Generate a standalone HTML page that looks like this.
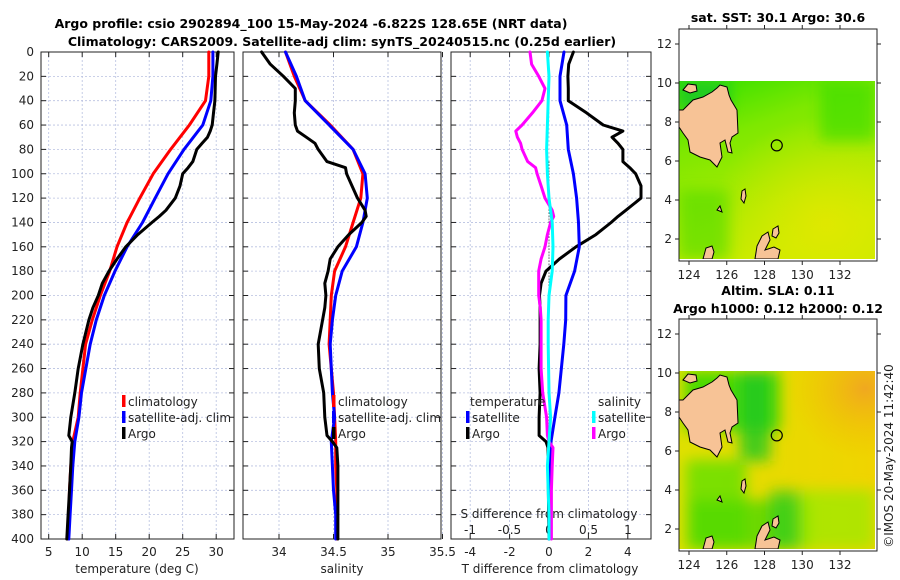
<!DOCTYPE html>
<html><head><meta charset="utf-8"><style>
body{margin:0;background:#fff;width:900px;height:580px;overflow:hidden}
svg{display:block}
text{font-family:"DejaVu Sans","Liberation Sans",sans-serif;fill:#222}
.t{font-weight:bold;font-size:12.5px;fill:#000}
.tk{font-size:12px}
</style></head><body>
<svg id="c" width="900" height="580" xmlns="http://www.w3.org/2000/svg">
<defs>
<linearGradient id="g1" x1="0" y1="0" x2="0.4" y2="1"><stop offset="0" stop-color="#2ee000"/><stop offset="0.35" stop-color="#7ee800"/><stop offset="1" stop-color="#c8ec00"/></linearGradient>
<radialGradient id="g1b" cx="0.75" cy="0.8" r="0.6"><stop offset="0" stop-color="#e2e800" stop-opacity="0.9"/><stop offset="1" stop-color="#e2e800" stop-opacity="0"/></radialGradient>
<linearGradient id="g2" x1="0" y1="0" x2="1" y2="0"><stop offset="0" stop-color="#e0e000"/><stop offset="1" stop-color="#f0d400"/></linearGradient>
<radialGradient id="g2b" cx="0.95" cy="0.1" r="0.4"><stop offset="0" stop-color="#f0a820"/><stop offset="1" stop-color="#f0c000" stop-opacity="0"/></radialGradient>
<filter id="bl" x="-10%" y="-10%" width="120%" height="120%"><feGaussianBlur stdDeviation="7"/></filter>
<clipPath id="cp1"><rect x="679" y="81" width="196" height="178"/></clipPath>
<clipPath id="cp2"><rect x="679" y="371" width="196" height="178"/></clipPath>
</defs>
</svg>
<script>
// ---------- data ----------
const depths = [0,20,40,60,80,100,120,140,160,180,200,220,240,280,300,320,340,360,380,400];
const tempClim = [28.9,28.9,28.4,26.0,23.2,20.6,18.6,16.7,15.2,14.1,12.7,11.5,10.5,9.7,9.4,8.6,8.3,8.1,8.0,7.9];
const tempSat  = [29.5,29.5,29.2,28.0,25.2,22.8,20.9,19.0,16.7,14.9,13.3,12.1,11.2,9.9,9.5,8.9,8.6,8.4,8.2,8.0];
const argoDepths = [0,10,20,30,40,50,60,65,70,75,80,90,95,100,110,120,130,135,140,150,160,170,180,190,200,210,220,240,260,280,300,315,320,325,340,360,380,400];
const tempArgo = [30.3,30.1,29.9,29.85,29.8,29.6,29.4,29.1,28.7,27.9,27.1,26.5,25.8,25.0,24.6,23.9,22.5,21.5,20.4,18.3,16.5,15.2,14.0,13.0,12.4,11.6,11.0,10.1,9.4,8.9,8.3,8.0,8.5,8.4,8.3,8.1,7.9,7.7];
const salClim = [34.06,34.14,34.24,34.47,34.68,34.77,34.75,34.68,34.61,34.51,34.48,34.47,34.46,34.50,34.51,34.52,34.52,34.53,34.53,34.53];
const salSat  = [34.06,34.16,34.24,34.46,34.68,34.79,34.81,34.77,34.71,34.58,34.52,34.49,34.47,34.49,34.51,34.48,34.49,34.50,34.52,34.52];
const salArgo = [33.84,33.92,34.04,34.15,34.15,34.14,34.15,34.17,34.25,34.33,34.36,34.44,34.61,34.62,34.67,34.72,34.79,34.80,34.76,34.64,34.54,34.47,34.45,34.42,34.43,34.42,34.40,34.36,34.37,34.41,34.42,34.44,34.49,34.53,34.54,34.54,34.54,34.54];
const dTsat = [0.76,0.56,0.56,0.9,0.98,1.24,1.4,1.5,1.54,1.3,0.86,0.85,0.75,0.5,0.3,0.1,0.05,0.03,0.01,0];
const dTargo = [1.24,1.0,0.96,0.98,0.98,1.91,2.75,3.75,3.2,3.5,3.75,3.75,4.1,4.4,4.67,4.67,3.9,3.5,3.15,2.38,1.37,0.53,-0.15,-0.4,-0.48,-0.45,-0.45,-0.45,-0.5,-0.45,-0.5,-0.5,-0.15,-0.05,-0.05,-0.03,-0.02,0];
const dSsat = [-0.02,0.0,-0.01,-0.02,-0.03,-0.02,0.0,0.04,0.05,0.04,0.0,-0.01,-0.01,0.0,0.02,0.0,-0.02,-0.01,0.0,0.0];
const dSargo = [-0.24,-0.22,-0.13,-0.05,-0.09,-0.21,-0.34,-0.42,-0.40,-0.36,-0.34,-0.27,-0.17,-0.15,-0.10,-0.05,0.04,0.06,0.02,-0.02,-0.05,-0.10,-0.13,-0.13,-0.13,-0.11,-0.10,-0.10,-0.10,-0.08,-0.03,-0.02,0.0,0.05,0.04,0.03,0.03,0.03];
const depthTicks = [0,20,40,60,80,100,120,140,160,180,200,220,240,260,280,300,320,340,360,380,400];
const tempTicks = [5,10,15,20,25,30];
const salTicks = [34,34.5,35,35.5];
const dTTicks = [-4,-2,0,2,4];
const dSTicks = [-1,-0.5,0,0.5,1];
const mapLatTicks = [2,4,6,8,10,12];
const mapLonTicks = [124,126,128,130,132];
const argoLon = 128.65, argoLat = 6.8;

// ---------- axes ----------
const NS='http://www.w3.org/2000/svg';
const svg=document.getElementById('c');
function el(tag,attrs,parent){const e=document.createElementNS(NS,tag);for(const k in attrs)e.setAttribute(k,attrs[k]);(parent||svg).appendChild(e);return e;}
const yD = d => 52 + d*(487/400);
const xT = t => 48.7 + (t-5)*6.7;
const xS = s => 279 + (s-34)*109;
const xdT = v => 549 + v*19.7;
const xdS = v => 549 + v*79;
const panels=[{x0:41,x1:234,name:'temperature-panel',ticks:tempTicks,fx:xT,lab:'temperature (deg C)',lx:137},
 {x0:243,x1:441,name:'salinity-panel',ticks:salTicks,fx:xS,lab:'salinity',lx:342},
 {x0:451,x1:651,name:'difference-panel',ticks:dTTicks,fx:xdT,lab:'T difference from climatology',lx:550}];
panels.forEach((p,i)=>{
  const g=el('g',{});
  
  
  depthTicks.forEach(d=>{
    el('line',{x1:p.x0,x2:p.x1,y1:yD(d),y2:yD(d),stroke:'#b8c0e0','stroke-width':0.8,'stroke-dasharray':'2,2'},g);
    el('line',{x1:p.x0,x2:p.x0+5,y1:yD(d),y2:yD(d),stroke:'#222'},g);
    el('line',{x1:p.x1-5,x2:p.x1,y1:yD(d),y2:yD(d),stroke:'#222'},g);
    if(i===0){const t=el('text',{x:34,y:yD(d)+4,'text-anchor':'end',class:'tk'},g);t.textContent=d;}
  });
  p.ticks.forEach(v=>{
    const x=p.fx(v);
    el('line',{x1:x,x2:x,y1:52,y2:539,stroke:'#b8c0e0','stroke-width':0.8,'stroke-dasharray':'2,2'},g);
    el('line',{x1:x,x2:x,y1:539,y2:534,stroke:'#222'},g);
    el('line',{x1:x,x2:x,y1:52,y2:57,stroke:'#222'},g);
    const t=el('text',{x:x,y:556,'text-anchor':'middle',class:'tk'},g);t.textContent=v;
  });
  el('rect',{x:p.x0,y:52,width:p.x1-p.x0,height:487,fill:'none',stroke:'#222','stroke-width':1},g);
  const lt=el('text',{x:p.lx,y:573,'text-anchor':'middle',class:'tk','font-size':'13'},g);lt.textContent=p.lab;
  
  
});
dSTicks.forEach(v=>{const t=el('text',{x:xdS(v),y:534,'text-anchor':'middle',class:'tk'});t.textContent=v;
 
 });
{const t=el('text',{x:549,y:518,'text-anchor':'middle',class:'tk','font-size':'13'});t.textContent='S difference from climatology';
 
 }
{const l=el('line',{x1:549,x2:549,y1:yD(90),y2:539,stroke:'#222','stroke-width':1,'stroke-dasharray':'1,2'});
 
 }

function line(vals,ds,fx,color,name){
  const pts=vals.map((v,i)=>fx(v).toFixed(1)+','+yD(ds[i]).toFixed(1)).join(' ');
  const p=el('polyline',{points:pts,fill:'none',stroke:color,'stroke-width':3,'stroke-linejoin':'round','stroke-linecap':'round'});
  
  
}
line(tempClim,depths,xT,'#ff0000','temp-climatology-line');
line(tempSat,depths,xT,'#0000ff','temp-satellite-line');
line(tempArgo,argoDepths,xT,'#000000','temp-argo-line');
line(salClim,depths,xS,'#ff0000','sal-climatology-line');
line(salSat,depths,xS,'#0000ff','sal-satellite-line');
line(salArgo,argoDepths,xS,'#000000','sal-argo-line');
line(dTargo,argoDepths,xdT,'#000000','dt-argo-line');
line(dTsat,depths,xdT,'#0000ff','dt-satellite-line');
line(dSargo,argoDepths,xdS,'#ff00ff','ds-argo-line');
line(dSsat,depths,xdS,'#00ffff','ds-satellite-line');

function leg(x,y,color,txt){
  const g=el('g',{});
  
  
  el('rect',{x:x,y:y-11,width:3.5,height:12,fill:color},g);
  const t=el('text',{x:x+6,y:y,class:'tk','font-size':'13'},g);t.textContent=txt;
}
leg(122,406,'#ff0000','climatology');leg(122,422,'#0000ff','satellite-adj. clim');leg(122,438,'#000000','Argo');
leg(332,406,'#ff0000','climatology');leg(332,422,'#0000ff','satellite-adj. clim');leg(332,438,'#000000','Argo');
{const t=el('text',{x:470,y:406,class:'tk','font-size':'13'});t.textContent='temperature';
 
 const s=el('text',{x:598,y:406,class:'tk','font-size':'13'});s.textContent='salinity';
 }
leg(466,422,'#0000ff','satellite');leg(466,438,'#000000','Argo');
leg(592,422,'#00ffff','satellite');leg(592,438,'#ff00ff','Argo');

[[311,28,'Argo profile: csio 2902894_100 15-May-2024 -6.822S 128.65E (NRT data)','main-title'],
 [342,46,'Climatology: CARS2009. Satellite-adj clim: synTS_20240515.nc (0.25d earlier)','subtitle'],
 [778,22,'sat. SST: 30.1 Argo: 30.6','sst-map-title'],
 [778,295,'Altim. SLA: 0.11','sla-map-title'],
 [778,313,'Argo h1000: 0.12 h2000: 0.12','argo-height-title']].forEach(a=>{
  const t=el('text',{x:a[0],y:a[1],'text-anchor':'middle',class:'t'});t.textContent=a[2];
  
  
});

const mlon = lon => 689 + (lon-124)*18.875;
const land1 = "679,110 683,110 693,100 703,97 712,92 717,88 720,85 727,87 729,95 731,100 737,110 738,133 732,137 730,143 732,153 728,152 725,140 720,143 722,157 717,167 713,163 710,160 700,157 690,152 688,140 683,133 679,127";
const isles = ["683,90 688,84 696,85 697,91 690,93","741,199 742,191 745,189 746,196 744,203","755,259 757,246 762,236 768,232 770,240 765,250 774,247 780,250 778,259","772,236 773,229 778,226 779,233 776,238","703,259 706,248 712,246 714,252 712,259","717,210 720,206 722,212"];
function map(off,clip,kind,name){
  const mlat = lat => 83 + off + (10-lat)*19.5;
  const g=el('g',{});
  
  
  const gc=el('g',{'clip-path':'url(#'+clip+')'},g);
  const bg=el('g',{},gc);
  if(kind===1){
    el('rect',{x:679,y:81+off,width:196,height:178,fill:'url(#g1)'},bg);
    el('rect',{x:679,y:81+off,width:196,height:178,fill:'url(#g1b)'},bg);
    const f=el('g',{filter:'url(#bl)'},bg);
    el('rect',{x:679,y:81+off,width:50,height:30,fill:'#10c030',opacity:0.7},f);
    el('rect',{x:820,y:81+off,width:55,height:60,fill:'#30dc00',opacity:0.6},f);
    el('rect',{x:679,y:190+off,width:50,height:69,fill:'#50dc00',opacity:0.6},f);
  } else {
    el('rect',{x:679,y:81+off,width:196,height:178,fill:'url(#g2)'},bg);
    el('rect',{x:679,y:81+off,width:196,height:178,fill:'url(#g2b)'},bg);
    const f=el('g',{filter:'url(#bl)'},bg);
    el('rect',{x:685,y:81+off,width:95,height:60,fill:'#30d800',opacity:0.85},f);
    el('rect',{x:740,y:81+off,width:30,height:90,fill:'#20c820',opacity:0.8},f);
    el('rect',{x:686,y:170+off,width:60,height:89,fill:'#70e000',opacity:0.9},f);
    el('rect',{x:690,y:210+off,width:120,height:49,fill:'#50d800',opacity:0.8},f);
    el('rect',{x:770,y:200+off,width:30,height:59,fill:'#30cc20',opacity:0.7},f);
    el('rect',{x:800,y:200+off,width:75,height:59,fill:'#a0e800',opacity:0.8},f);
  }
  const lg=el('g',{transform:'translate(0,'+off+')'},gc);
  el('polygon',{points:land1,fill:'#f7c396',stroke:'#000','stroke-width':1},lg);
  isles.forEach(p=>el('polygon',{points:p,fill:'#f7c396',stroke:'#000','stroke-width':1},lg));
  const c=el('circle',{cx:mlon(argoLon),cy:mlat(argoLat),r:5.5,fill:'none',stroke:'#000','stroke-width':1.2},g);
  
  
  el('rect',{x:679,y:29+off,width:198,height:232,fill:'none',stroke:'#222','stroke-width':1},g);
  mapLatTicks.forEach(l=>{const y=mlat(l);
    el('line',{x1:679,x2:675,y1:y,y2:y,stroke:'#222'},g);el('line',{x1:877,x2:881,y1:y,y2:y,stroke:'#222'},g);
    const t=el('text',{x:672,y:y+4,'text-anchor':'end',class:'tk'},g);t.textContent=l;});
  mapLonTicks.forEach(l=>{const x=mlon(l);
    el('line',{x1:x,x2:x,y1:261+off,y2:265+off,stroke:'#222'},g);el('line',{x1:x,x2:x,y1:29+off,y2:25+off,stroke:'#222'},g);
    const t=el('text',{x:x,y:279+off,'text-anchor':'middle',class:'tk'},g);t.textContent=l;});
}
map(0,'cp1',1,'sst-map');
map(290,'cp2',2,'sla-map');
{const t=el('text',{x:893,y:456,'text-anchor':'middle',class:'tk',transform:'rotate(-90 893 456)'});t.textContent='©IMOS 20-May-2024 11:42:40';
 
 }
</script>
</body></html>
